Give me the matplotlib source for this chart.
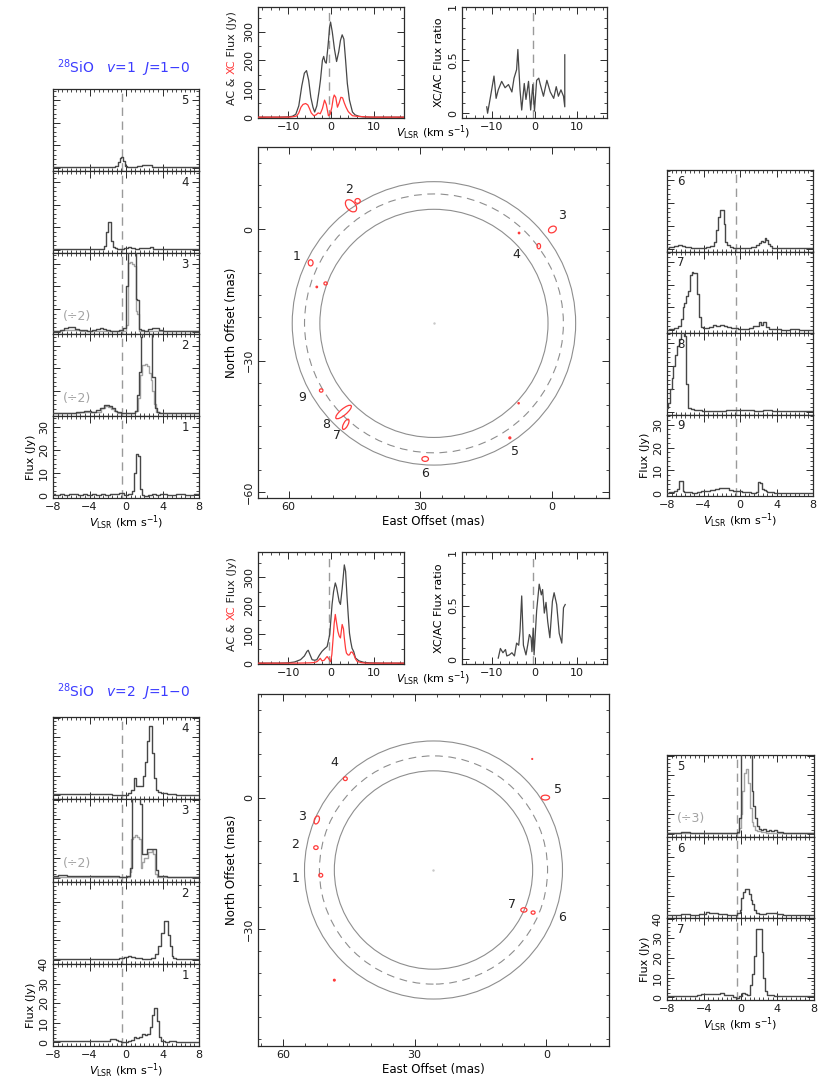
import matplotlib
matplotlib.use("Agg")
import matplotlib.pyplot as plt
from matplotlib.patches import Ellipse, Circle
from matplotlib.ticker import MultipleLocator

plt.rcParams['font.family'] = ['DejaVu Sans']
plt.rcParams['mathtext.fontset'] = 'dejavusans'
plt.rcParams['font.size'] = 8

# ---------------------------------------------------------------- data
V_STAR = -0.4  # stellar systemic velocity (km/s)

# ---- SiO v=1 J=1-0 : total-power (AC) and cross-correlated (XC) spectra
ac1_vel = [-17, -12, -10, -9, -8.2, -7.5, -6.8, -6.2, -5.7, -5.2, -4.7, -4.2, -3.8, -3.3, -2.8,
           -2.45, -2.0, -1.7, -1.4, -1.1, -0.7, -0.3, -0.1, 0.3, 0.8, 1.3, 1.8, 2.2, 2.6, 3.0,
           3.4, 3.8, 4.3, 5.0, 5.6, 6.5, 7.5, 9, 12, 17]
ac1_flux = [0, 0, 1, 3, 10, 40, 110, 155, 164, 130, 70, 35, 18, 40, 90, 131, 200, 214, 195, 190,
            250, 320, 335, 300, 240, 196, 230, 270, 290, 275, 200, 119, 60, 18, 8, 3, 1, 0, 0, 0]
xc1_vel = [-17, -12, -10, -9, -8, -7.5, -7, -6.5, -5.9, -5.4, -5, -4.6, -4.0, -3.5, -3.0, -2.5,
           -2.0, -1.5, -1.1, -0.6, -0.2, 0.2, 0.5, 0.75, 1.1, 1.5, 1.9, 2.3, 2.7, 3.1, 3.5, 4,
           4.5, 5.0, 6, 7, 8, 10, 17]
xc1_flux = [0, 0, 0, 1, 4, 15, 35, 45, 48, 43, 30, 15, 5, 8, 15, 12, 30, 60, 45, 5, 10, 35, 65,
            78, 70, 35, 50, 70, 68, 50, 35, 20, 12, 5, 3, 2, 1, 0, 0]
ratio1_vel = [-11.2, -11.0, -10.3, -9.5, -9.0, -8.5, -7.7, -6.9, -6.1, -5.3, -4.8, -4.2, -3.9,
              -3.4, -3.0, -2.4, -2.0, -1.4, -0.9, -0.4, 0.0, 0.5, 1.0, 1.3, 2.1, 2.9, 3.7, 4.5,
              5.1, 5.6, 6.2, 6.8, 7.1, 7.1]
ratio1 = [0.06, 0.0, 0.16, 0.35, 0.14, 0.22, 0.30, 0.24, 0.27, 0.20, 0.33, 0.41, 0.60, 0.22,
          0.03, 0.28, 0.13, 0.30, 0.03, 0.27, 0.02, 0.31, 0.33, 0.28, 0.16, 0.31, 0.20, 0.14,
          0.25, 0.16, 0.22, 0.16, 0.06, 0.55]

# ---- SiO v=2 J=1-0
ac2_vel = [-17, -12, -10, -8.5, -7.1, -6.2, -5.6, -5.3, -4.9, -4.4, -3.8, -3.3, -2.7, -2.1, -1.5,
           -0.9, -0.3, 0.25, 0.6, 1.0, 1.3, 1.6, 1.9, 2.2, 2.6, 3.1, 3.4, 3.7, 4.0, 4.3, 4.6, 4.9,
           5.3, 5.7, 6.5, 7.6, 9, 12, 17]
ac2_flux = [0, 0, 1, 4, 12, 25, 41, 45, 30, 12, 10, 12, 28, 41, 50, 58, 100, 205, 250, 280, 265,
            240, 215, 205, 260, 343, 320, 240, 170, 105, 75, 52, 40, 18, 8, 3, 1, 0, 0]
xc2_vel = [-17, -8, -5, -4, -3.3, -2.9, -2.5, -2.1, -1.6, -1.2, -0.9, -0.5, -0.1, 0.2, 0.5, 0.75,
           1.0, 1.3, 1.6, 1.9, 2.2, 2.6, 2.9, 3.1, 3.4, 3.6, 4.0, 4.3, 4.6, 4.9, 5.3, 5.7, 6.1, 7,
           8, 17]
xc2_flux = [0, 0, 1, 2, 5, 10, 17, 8, 10, 18, 23, 15, 5, 30, 88, 140, 170, 140, 111, 95, 88, 135,
            120, 88, 50, 35, 28, 29, 38, 39, 30, 15, 6, 2, 0, 0]
ratio2_vel = [-8.5, -8.0, -7.4, -6.8, -6.5, -5.9, -5.3, -4.7, -4.2, -3.7, -3.4, -3.0, -2.6, -2.0,
              -1.6, -1.2, -0.8, -0.6, -0.3, -0.1, 0.5, 1.1, 1.6, 1.9, 2.3, 2.7, 3.1, 3.6, 4.2,
              4.6, 5.2, 5.8, 6.4, 6.8, 7.2]
ratio2 = [0.01, 0.10, 0.06, 0.09, 0.03, 0.04, 0.06, 0.03, 0.15, 0.13, 0.26, 0.59, 0.13, 0.04,
          0.13, 0.23, 0.20, 0.07, 0.29, 0.04, 0.45, 0.70, 0.60, 0.65, 0.43, 0.53, 0.35, 0.20,
          0.54, 0.62, 0.51, 0.24, 0.15, 0.48, 0.51]

# ---- individual maser-spot spectra, v=1 (Jy)
v1s1_vel = [-8, -7.5, -7, -6.5, -6, -5.5, -5, -4.5, -4, -3.5, -3, -2.5, -2, -1.5, -1, -0.5, 0, 0.5,
            0.8, 1.0, 1.2, 1.4, 1.6, 1.8, 2.2, 2.6, 3.0, 3.5, 4, 5, 6, 7, 8]
v1s1_flux = [0.4, 0.3, 0.5, 0.3, 0.6, 0.4, 0.3, 0.5, 0.3, 0.4, 0.2, 0.5, 0.3, 0.4, 0.6, 0.8, 0.3,
             0.5, 2.0, 10.0, 18.3, 17.5, 3.0, 0.2, -0.3, 0.3, 0.5, 0.2, 0.4, 0.3, 0.4, 0.3, 0.4]
v1s2_vel = [-8, -7, -6, -5, -4.2, -3.5, -3, -2.6, -2.3, -2.0, -1.7, -1.4, -1.1, -0.8, -0.4, 0,
            0.4, 0.8, 1.1, 1.35, 1.5, 1.7, 1.9, 2.1, 2.3, 2.5, 2.7, 2.9, 3.1, 3.3, 3.5, 3.8, 4.2,
            5, 6, 7, 8]
v1s2_flux = [0.3, 0.4, 0.3, 0.5, 1.0, 0.8, 1.5, 2.5, 3.6, 3.8, 3.2, 2.5, 1.2, 0.6, 0.3, 0.2, 0.3,
             0.4, 1.0, 8, 18.5, 34, 45, 52, 54, 50, 42, 16, 16, 2.5, 0.5, 0.4, 0.4, 0.3, 0.4, 0.3,
             0.3]
v1s2g_vel = [-8, -6, -4, -3, -2.4, -2.1, -1.8, -1.5, -1.2, -0.8, 0, 0.8, 1.25, 1.4, 1.6, 1.8, 2.0,
             2.2, 2.4, 2.6, 2.8, 3.0, 3.2, 3.4, 4, 6, 8]
v1s2g_flux = [0.3, 0.3, 0.5, 0.8, 2.5, 3.2, 3.0, 2.2, 1.0, 0.4, 0.2, 0.3, 1.0, 7, 17, 21.5, 21.5,
              21.7, 21.0, 18, 15, 10, 4, 0.5, 0.3, 0.3, 0.3]
v1s3_vel = [-8, -7.5, -7, -6.5, -6.2, -5.8, -5.4, -5, -4.5, -4, -3.5, -3, -2.7, -2.4, -2, -1.5,
            -1, -0.5, -0.1, 0.15, 0.35, 0.55, 0.75, 0.95, 1.15, 1.35, 1.55, 1.8, 2.2, 2.6, 3.0,
            3.4, 3.8, 4.2, 5, 6, 7, 8]
v1s3_flux = [0.3, 0.5, 0.8, 1.8, 2.2, 2.0, 1.2, 0.8, 0.6, 0.4, 0.6, 1.0, 1.6, 1.2, 0.6, 0.4, 0.5,
             0.7, 1.5, 20, 50, 62, 62, 55, 14.5, 14, 1.0, 0.6, 0.5, 1.0, 1.5, 1.5, 0.8, 0.5, 0.4,
             0.3, 0.4, 0.3]
v1s3g_vel = [-8, -6, -4, -2, -1, -0.1, 0.15, 0.35, 0.55, 0.75, 0.95, 1.15, 1.35, 1.55, 2, 4, 8]
v1s3g_flux = [0.3, 0.8, 0.3, 0.4, 0.3, 0.5, 3, 30.5, 31, 30, 29, 9, 8, 0.5, 0.3, 0.3, 0.3]
v1s4_vel = [-8, -7, -6, -5, -4, -3, -2.5, -2.3, -2.1, -1.9, -1.7, -1.5, -1.3, -1.1, -0.8, -0.4, 0,
            0.4, 0.8, 1.2, 1.6, 2, 2.4, 2.8, 3.2, 3.6, 4, 5, 6, 7, 8]
v1s4_flux = [0.4, 0.3, 0.5, 0.3, 0.5, 0.4, 0.6, 1.5, 8, 12.5, 12.5, 4, 1.2, 0.8, 0.5, 0.4, 1.0,
             1.2, 0.8, 0.6, 0.9, 0.7, 1.0, 1.2, 0.5, 0.3, 0.2, 0.3, 0.2, 0.3, 0.3]
v1s5_vel = [-8, -7, -6, -5, -4, -3, -2, -1.5, -1.0, -0.8, -0.6, -0.4, -0.2, 0, 0.3, 0.6, 1, 1.5,
            2, 2.3, 2.6, 3, 3.5, 4, 5, 6, 7, 8]
v1s5_flux = [0.5, 0.6, 0.5, 0.7, 0.6, 0.4, 0.5, 0.6, 1.0, 2.5, 4.5, 5.0, 3.0, 1.0, 0.5, 0.4, 0.6,
             0.8, 1.2, 1.5, 1.2, 0.6, 0.4, 0.5, 0.4, 0.3, 0.3, 0.4]
v1s6_vel = [-8, -7.5, -7, -6.6, -6.2, -5.8, -5, -4, -3.5, -3, -2.7, -2.5, -2.3, -2.1, -1.9, -1.7,
            -1.5, -1.3, -1, -0.5, 0, 0.5, 1, 1.5, 2.0, 2.2, 2.4, 2.6, 2.8, 3.0, 3.2, 3.4, 3.7, 4,
            5, 6, 7, 8]
v1s6_flux = [0.5, 0.8, 1.0, 1.5, 1.2, 0.6, 0.5, 0.4, 0.6, 1.0, 3, 8, 14, 16.8, 16.8, 11, 3, 1.5,
             0.8, 0.5, 0.4, 0.3, 0.4, 0.6, 1.5, 2.5, 3.5, 3.0, 4.5, 4.0, 2.0, 1.0, 0.5, 0.4, 0.3,
             0.4, 0.3, 0.3]
v1s7_vel = [-8, -7.5, -7, -6.6, -6.4, -6.2, -6.0, -5.8, -5.6, -5.4, -5.2, -5.0, -4.8, -4.6, -4.4,
            -4.2, -4.0, -3.6, -3.2, -2.8, -2.4, -2.0, -1.6, -1.2, -0.8, -0.4, 0, 0.4, 0.8, 1.2,
            1.6, 2.0, 2.2, 2.4, 2.6, 2.8, 3.0, 3.4, 4, 5, 6, 7, 8]
v1s7_flux = [0.3, 0.5, 1.0, 2, 5, 10, 12, 15, 17, 24, 25.5, 25, 25, 16, 6, 1.5, 1.0, 0.8, 1.5,
             2.5, 1.8, 2.5, 2.0, 1.5, 1.2, 1.0, 0.5, 0.4, 0.5, 1.0, 1.8, 2.0, 3.5, 2.5, 3.5, 3.5,
             1.5, 0.5, 0.4, 0.3, 0.4, 0.3, 0.3]
v1s8_vel = [-8, -7.8, -7.6, -7.4, -7.2, -7.0, -6.8, -6.6, -6.4, -6.2, -6.0, -5.8, -5.6, -5.2,
            -4.8, -4.4, -4, -3, -2, -1, -0.5, 0, 0.5, 1, 2, 3, 4, 5, 6, 7, 8]
v1s8_flux = [1.5, 4, 10, 15, 20, 25, 29, 32, 35, 36, 33, 12, 1.5, 1.0, 0.8, 0.6, 0.5, 0.4, 0.5,
             0.6, 0.8, 0.8, 0.6, 0.7, 0.5, 0.6, 0.5, 0.4, 0.4, 0.3, 0.3]
v1s9_vel = [-8, -7.5, -7, -6.8, -6.6, -6.4, -6.2, -6.0, -5.5, -5, -4.5, -4, -3.5, -3.0, -2.5,
            -2.0, -1.5, -1.0, -0.5, 0, 0.5, 1, 1.5, 1.9, 2.1, 2.3, 2.5, 2.7, 2.9, 3.1, 3.5, 4, 5,
            6, 7, 8]
v1s9_flux = [0.3, 0.4, 0.8, 2.0, 5.5, 5.5, 1.0, 0.5, 0.4, 0.3, 0.5, 0.8, 1.0, 1.5, 2.0, 2.5, 2.2,
             1.5, 1.0, 0.8, 0.5, 0.4, 0.3, 0.6, 5.0, 4.5, 2.0, 1.5, 1.0, 0.6, 0.4, 0.3, 0.3, 0.2,
             0.3, 0.3]

# ---- individual maser-spot spectra, v=2 (Jy)
v2s1_vel = [-8, -7, -6, -5, -4, -3, -2, -1.6, -1.3, -1.0, -0.7, -0.4, 0, 0.4, 0.8, 1.0, 1.3, 1.6,
            1.9, 2.2, 2.5, 2.8, 2.95, 3.1, 3.3, 3.5, 3.7, 3.9, 4.1, 4.5, 5, 6, 7, 8]
v2s1_flux = [0.5, 0.4, 0.5, 0.4, 0.6, 0.5, 0.8, 1.7, 1.8, 1.2, 0.5, 0.2, 0.3, 0.5, 1.0, 2.5, 2.0,
             2.5, 4.0, 3.5, 4.0, 7.6, 14, 17.8, 17.8, 11, 2.5, 0.8, 0.5, 0.3, 0.4, 0.3, 0.3, 0.3]
v2s2_vel = [-8, -7, -6, -5, -4, -3, -2, -1, -0.5, 0, 0.4, 0.8, 1.2, 1.6, 2, 2.5, 3.0, 3.4, 3.7,
            4.0, 4.3, 4.5, 4.7, 4.9, 5.1, 5.3, 5.6, 6, 7, 8]
v2s2_flux = [0.4, 0.3, 0.5, 0.4, 0.3, 0.5, 0.4, 0.6, 1.0, 1.5, 2.0, 1.5, 1.0, 0.8, 0.6, 0.5, 0.8,
             3, 7, 14, 20, 20, 13, 7, 2, 0.8, 0.5, 0.3, 0.3, 0.3]
v2s3_vel = [-8, -7, -6, -5, -4, -3, -2, -1, -0.5, 0, 0.3, 0.6, 0.8, 1.0, 1.2, 1.4, 1.6, 1.8, 2.0,
            2.2, 2.4, 2.6, 2.8, 3.0, 3.2, 3.4, 3.6, 4, 5, 6, 7, 8]
v2s3_flux = [1.0, 1.2, 0.8, 0.9, 0.8, 0.6, 0.7, 0.6, 0.3, 0.2, 1.0, 5, 45, 50, 50, 45, 38, 12, 12,
             12, 14.5, 14.5, 14.5, 14.5, 14.5, 4, 1, 0.6, 0.5, 0.4, 0.5, 0.4]
v2s3g_vel = [-8, -6, -4, -2, -1, 0, 0.3, 0.5, 0.7, 0.9, 1.1, 1.3, 1.5, 1.7, 1.9, 2.1, 2.3, 2.5,
             2.7, 2.9, 3.1, 3.3, 3.5, 4, 6, 8]
v2s3g_flux = [0.5, 0.5, 0.4, 0.4, 0.3, 0.3, 0.5, 3, 20, 21, 22, 21, 20, 5, 8, 10, 10, 13, 13, 14,
              12, 2, 0.5, 0.4, 0.3, 0.3]
v2s4_vel = [-8, -7, -6, -5, -4, -3, -2, -1, -0.5, 0, 0.4, 0.8, 1.0, 1.2, 1.5, 1.8, 2.0, 2.2, 2.4,
            2.6, 2.8, 3.0, 3.2, 3.4, 3.6, 4, 5, 6, 7, 8]
v2s4_flux = [0.6, 0.5, 0.7, 0.5, 0.6, 0.5, 0.6, 0.4, 0.3, 0.3, 1.0, 3, 9, 5, 5, 5, 10, 17, 28,
             35.5, 35.5, 22, 9, 3, 1.5, 1.0, 0.6, 0.4, 0.4, 0.3]
v2s5_vel = [-8, -7, -6, -5, -4, -3, -2, -1, -0.5, -0.3, -0.1, 0.1, 0.3, 0.5, 0.7, 0.9, 1.1, 1.3,
            1.5, 1.7, 1.9, 2.1, 2.3, 2.6, 2.9, 3.2, 3.5, 3.8, 4.2, 5, 6, 7, 8]
v2s5_flux = [0.3, 0.5, 0.8, 0.5, 0.4, 0.6, 0.5, 0.3, 0.2, 1.0, 8, 45, 60, 75, 80, 70, 45, 22, 14,
             8, 4, 2.5, 2.0, 2.5, 1.5, 2.0, 1.5, 2.0, 1.0, 0.5, 0.4, 0.3, 0.3]
v2s5g_vel = [-8, -4, -1, -0.3, -0.1, 0.1, 0.3, 0.5, 0.7, 0.9, 1.1, 1.3, 1.5, 1.7, 2, 2.5, 3, 4,
             6, 8]
v2s5g_flux = [0.3, 0.3, 0.2, 0.5, 3, 10, 22, 31, 33, 26, 13, 6, 4, 2, 1.2, 0.8, 0.5, 0.3, 0.3,
              0.3]
v2s6_vel = [-8, -7, -6, -5, -4, -3.6, -3.2, -2.8, -2, -1, -0.5, -0.2, 0.0, 0.2, 0.4, 0.6, 0.8,
            1.0, 1.2, 1.4, 1.6, 1.8, 2.2, 2.6, 3, 3.4, 3.8, 4.2, 5, 6, 7, 8]
v2s6_flux = [0.3, 0.4, 0.6, 0.4, 0.8, 1.5, 1.2, 1.0, 0.6, 0.4, 0.3, 1.0, 3, 9, 12, 13.6, 13.6,
             11, 8, 6, 3, 1, 0.5, 0.6, 1.0, 1.2, 1.0, 0.6, 0.4, 0.3, 0.3, 0.3]
v2s7_vel = [-8, -7, -6, -5, -4.5, -4.0, -3.5, -3.0, -2.5, -2.0, -1.5, -1.0, -0.6, -0.3, 0, 0.3,
            0.6, 0.9, 1.2, 1.4, 1.6, 1.8, 2.0, 2.2, 2.4, 2.6, 2.8, 3.0, 3.4, 4, 5, 6, 7, 8]
v2s7_flux = [0.3, 0.4, 0.5, 0.6, 1.0, 1.5, 1.8, 1.5, 1.5, 2.0, 1.2, 1.0, 0.0, -0.5, 0.5, 2.0,
             1.5, 1.0, 6, 12, 21, 35, 35, 35, 23, 10, 3, 1.2, 1.0, 0.6, 0.5, 0.4, 0.3, 0.3]

# ---- spot maps: east / north offsets (mas), contour extent (mas), position angle (deg)
map1_east = [45.8, 44.3, -0.1, 55.0, 7.5, 3.0, 53.6, 51.6, 52.6, 47.5, 47.0, 28.9, 9.6, 7.6]
map1_north = [5.3, 6.4, -0.1, -7.7, -0.9, -3.9, -13.2, -12.4, -36.8, -41.7, -44.5, -52.4, -47.6,
              -39.7]
map1_major = [3.2, 1.2, 1.9, 1.4, 0.35, 1.2, 0.35, 0.75, 0.8, 4.5, 2.6, 1.5, 0.45, 0.3]
map1_minor = [2.0, 1.1, 1.4, 1.1, 0.35, 0.8, 0.35, 0.7, 0.75, 1.4, 1.0, 1.1, 0.45, 0.3]
map1_angle = [50, 0, -30, 90, 0, 90, 0, 0, 0, -40, -62, 0, 0, 0]
map1_label = ['1', '2', '3', '4', '5', '6', '7', '8', '9']
map1_label_east = [58.2, 46.2, -2.4, 8.1, 8.4, 29.0, 49.0, 51.5, 57.0]
map1_label_north = [-6.3, 8.9, 3.0, -5.9, -50.6, -55.8, -47.0, -44.6, -38.5]
ring1_center = (26.9, -21.5)
ring1_radii = [32.3, 29.5, 26.0]

map2_east = [45.8, 0.2, 52.3, 52.5, 51.4, 5.1, 3.0, 48.3, 3.2]
map2_north = [4.3, 0.0, -5.1, -11.4, -17.7, -25.6, -26.2, -41.6, 8.8]
map2_major = [0.9, 1.9, 1.9, 1.0, 0.9, 1.4, 0.9, 0.4, 0.2]
map2_minor = [0.85, 1.1, 1.1, 0.85, 0.85, 1.0, 0.75, 0.4, 0.2]
map2_angle = [0, 0, -70, 0, 0, 0, 0, 0, 0]
map2_label = ['1', '2', '3', '4', '5', '6', '7']
map2_label_east = [57.1, 57.3, 55.7, 48.3, -2.7, -3.5, 7.9]
map2_label_north = [-18.4, -10.8, -4.3, 7.9, 1.8, -27.4, -24.3]
ring2_center = (25.7, -16.5)
ring2_radii = [29.4, 26.0, 22.6]

# ---------------------------------------------------------------- styling
W, H = 826, 1080
FRAME = '#2b2b2b'
LINE = '#474747'
GREY = '#a3a3a3'
RED = '#ff3a3a'
BLUE = '#3c3cff'
DASH = '#9a9a9a'

fig = plt.figure(figsize=(W / 100, H / 100), dpi=100)


def rect(x0, y0, x1, y1):
    """pixel box (top-left origin) -> figure fraction rect"""
    return [x0 / W, 1 - y1 / H, (x1 - x0) / W, (y1 - y0) / H]


def frame(ax, xmaj, xmin, ymaj, ymin):
    ax.xaxis.set_major_locator(MultipleLocator(xmaj))
    ax.xaxis.set_minor_locator(MultipleLocator(xmin))
    ax.yaxis.set_major_locator(MultipleLocator(ymaj))
    ax.yaxis.set_minor_locator(MultipleLocator(ymin))
    ax.tick_params(which='both', direction='in', top=True, right=True, color=FRAME,
                   labelcolor='#1a1a1a', labelsize=8, pad=3)
    ax.tick_params(which='major', length=5, width=0.7)
    ax.tick_params(which='minor', length=2.5, width=0.6)
    for s in ax.spines.values():
        s.set_color(FRAME)
        s.set_linewidth(0.9)


def ylabels(ax, ticks, labels):
    ax.set_yticks(ticks)
    ax.set_yticklabels(labels, rotation=90, va='center')


VLSR = r'$V_{\rm LSR}$ (km s$^{-1}$)'


def spectrum_stack(x0, x1, y0, y1, panels, ylim, ytick_vals, ytick_txt, side):
    n = len(panels)
    h = (y1 - y0) / n
    for i, p in enumerate(panels):
        ax = fig.add_axes(rect(x0, y0 + i * h, x1, y0 + (i + 1) * h))
        frame(ax, 4, 0.5, 10, 2)
        ax.set_xlim(-8, 8)
        ax.set_ylim(*ylim)
        ax.axvline(V_STAR, color=DASH, lw=1.0, ls=(0, (6, 4)), zorder=1)
        if 'grey' in p:
            gv, gf = p['grey']
            ax.plot(gv, gf, drawstyle='steps-mid', color=GREY, lw=1.0, zorder=2)
        vel, flux = p['main']
        ax.plot(vel, flux, drawstyle='steps-mid', color=LINE, lw=1.0, zorder=3)
        if side == 'left':
            ax.text(0.93, 0.86, p['num'], transform=ax.transAxes, ha='right', va='center',
                    fontsize=8.5, color='#222')
        else:
            ax.text(0.07, 0.86, p['num'], transform=ax.transAxes, ha='left', va='center',
                    fontsize=8.5, color='#222')
        if 'div' in p:
            ax.text(0.07, 0.22, p['div'], transform=ax.transAxes, ha='left', va='center',
                    fontsize=9, color=GREY)
        last = (i == n - 1)
        ax.tick_params(labelbottom=last, labelleft=last)
        if last:
            ax.set_xticks([-8, -4, 0, 4, 8])
            ax.set_xticklabels(['\u22128', '\u22124', '0', '4', '8'])
            ylabels(ax, ytick_vals, ytick_txt)
            ax.set_ylim(*ylim)
            ax.set_ylabel('Flux (Jy)', fontsize=8, labelpad=2)
            ax.set_xlabel(VLSR, fontsize=8, labelpad=1)


def ac_xc_panel(box, acv, acf, xcv, xcf):
    ax = fig.add_axes(rect(*box))
    frame(ax, 10, 2, 100, 50)
    ax.set_xlim(-17, 17)
    ax.axvline(V_STAR, color=DASH, lw=1.0, ls=(0, (6, 4)), zorder=1)
    ax.plot(acv, acf, color=LINE, lw=0.9, zorder=2)
    ax.plot(xcv, xcf, color=RED, lw=0.9, zorder=3)
    ax.set_xticks([-10, 0, 10])
    ax.set_xticklabels(['\u221210', '0', '10'])
    ylabels(ax, [0, 100, 200, 300], ['0', '100', '200', '300'])
    ax.set_ylim(-3, 388)
    return ax


def ratio_panel(box, vel, ratio):
    ax = fig.add_axes(rect(*box))
    frame(ax, 10, 2, 0.5, 0.1)
    ax.set_xlim(-17, 17)
    ax.axvline(V_STAR, color=DASH, lw=1.0, ls=(0, (6, 4)), zorder=1)
    ax.plot(vel, ratio, color=LINE, lw=0.9, zorder=2)
    ax.set_xticks([-10, 0, 10])
    ax.set_xticklabels(['\u221210', '0', '10'])
    ylabels(ax, [0, 0.5, 1], ['0', '0.5', '1'])
    ax.set_ylim(-0.045, 1.0)
    ax.set_ylabel('XC/AC Flux ratio', fontsize=8, labelpad=3)
    return ax


def spot_map(box, xlim, ylim, east, north, major, minor, angle, lab, lab_e, lab_n,
             center, radii):
    ax = fig.add_axes(rect(*box))
    frame(ax, 30, 5, 30, 5)
    styles = ['-', (0, (7, 5)), '-']
    for r, ls in zip(radii, styles):
        ax.add_patch(Circle(center, r, fill=False, ec='#8e8e8e', lw=0.8, ls=ls))
    ax.plot([center[0]], [center[1]], marker='.', ms=1.5, color='#c8c8c8')
    for e, n_, a, b, ang in zip(east, north, major, minor, angle):
        filled = a < 0.5
        ax.add_patch(Ellipse((e, n_), a, b, angle=ang, fill=filled,
                             fc=RED, ec=RED, lw=0.9))
    for t, e, n_ in zip(lab, lab_e, lab_n):
        ax.text(e, n_, t, ha='center', va='center', fontsize=9, color='#222')
    ax.set_xlim(*xlim)
    ax.set_ylim(*ylim)
    ax.set_xticks([60, 30, 0])
    ylabels(ax, [0, -30, -60], ['0', '\u221230', '\u221260'])
    ax.set_ylim(*ylim)
    ax.set_xlabel('East Offset (mas)', fontsize=8.5, labelpad=2)
    ax.set_ylabel('North Offset (mas)', fontsize=8.5, labelpad=4)
    return ax


renderer = fig.canvas.get_renderer()


def coloured_vlabel(xpx, ymid_px, parts):
    """vertical axis label built from differently coloured pieces"""
    texts = []
    for s, c in parts:
        t = fig.text(0, 0, s, color=c, rotation=90, ha='center', va='bottom', fontsize=8)
        texts.append(t)
    sizes = [t.get_window_extent(renderer).height for t in texts]
    total = sum(sizes)
    y = (H - ymid_px) - total / 2
    for t, s in zip(texts, sizes):
        t.set_position((xpx / W, y / H))
        y += s


def title(xpx, ypx, v):
    fig.text(xpx / W, 1 - ypx / H,
             r'$^{28}$SiO   $v$=' + v + r'  $J$=1$-$0', color=BLUE, fontsize=10,
             ha='left', va='center')


# ---------------------------------------------------------------- v = 1
title(57, 68, '1')
ac_xc_panel((258, 7, 404, 118), ac1_vel, ac1_flux, xc1_vel, xc1_flux)
ratio_panel((462, 7, 607, 118), ratio1_vel, ratio1)
coloured_vlabel(232, 58, [('AC & ', '#222'), ('XC', RED), (' Flux (Jy)', '#222')])
fig.text(433 / W, 1 - 133 / H, VLSR, ha='center', va='center', fontsize=8)

spot_map((258, 147, 609, 498), (67.0, -13.0), (-61.3, 18.7), map1_east, map1_north,
         map1_major, map1_minor, map1_angle, map1_label, map1_label_east,
         map1_label_north, ring1_center, ring1_radii)

spectrum_stack(53, 199, 89, 498, [
    {'num': '5', 'main': (v1s5_vel, v1s5_flux)},
    {'num': '4', 'main': (v1s4_vel, v1s4_flux)},
    {'num': '3', 'main': (v1s3_vel, v1s3_flux), 'grey': (v1s3g_vel, v1s3g_flux), 'div': '(\u00f72)'},
    {'num': '2', 'main': (v1s2_vel, v1s2_flux), 'grey': (v1s2g_vel, v1s2g_flux), 'div': '(\u00f72)'},
    {'num': '1', 'main': (v1s1_vel, v1s1_flux)},
], (-1.2, 35), [0, 10, 20, 30], ['0', '10', '20', '30'], 'left')

spectrum_stack(667, 813, 170, 496, [
    {'num': '6', 'main': (v1s6_vel, v1s6_flux)},
    {'num': '7', 'main': (v1s7_vel, v1s7_flux)},
    {'num': '8', 'main': (v1s8_vel, v1s8_flux)},
    {'num': '9', 'main': (v1s9_vel, v1s9_flux)},
], (-1.2, 34.5), [0, 10, 20, 30], ['0', '10', '20', '30'], 'right')

# ---------------------------------------------------------------- v = 2
title(57, 692, '2')
ac_xc_panel((258, 552, 404, 664), ac2_vel, ac2_flux, xc2_vel, xc2_flux)
ratio_panel((462, 552, 607, 664), ratio2_vel, ratio2)
coloured_vlabel(232, 604, [('AC & ', '#222'), ('XC', RED), (' Flux (Jy)', '#222')])
fig.text(433 / W, 1 - 679 / H, VLSR, ha='center', va='center', fontsize=8)

spot_map((258, 694, 609, 1046), (65.7, -14.3), (-56.6, 23.6), map2_east, map2_north,
         map2_major, map2_minor, map2_angle, map2_label, map2_label_east,
         map2_label_north, ring2_center, ring2_radii)

spectrum_stack(53, 199, 717, 1046, [
    {'num': '4', 'main': (v2s4_vel, v2s4_flux)},
    {'num': '3', 'main': (v2s3_vel, v2s3_flux), 'grey': (v2s3g_vel, v2s3g_flux), 'div': '(\u00f72)'},
    {'num': '2', 'main': (v2s2_vel, v2s2_flux)},
    {'num': '1', 'main': (v2s1_vel, v2s1_flux)},
], (-2, 40.3), [0, 10, 20, 30, 40], ['0', '10', '20', '30', '40'], 'left')

spectrum_stack(667, 814, 755, 1000, [
    {'num': '5', 'main': (v2s5_vel, v2s5_flux), 'grey': (v2s5g_vel, v2s5g_flux), 'div': '(\u00f73)'},
    {'num': '6', 'main': (v2s6_vel, v2s6_flux)},
    {'num': '7', 'main': (v2s7_vel, v2s7_flux)},
], (-1.5, 40.3), [0, 10, 20, 30, 40], ['0', '10', '20', '30', '40'], 'right')

fig.savefig('out.png', dpi=100)
